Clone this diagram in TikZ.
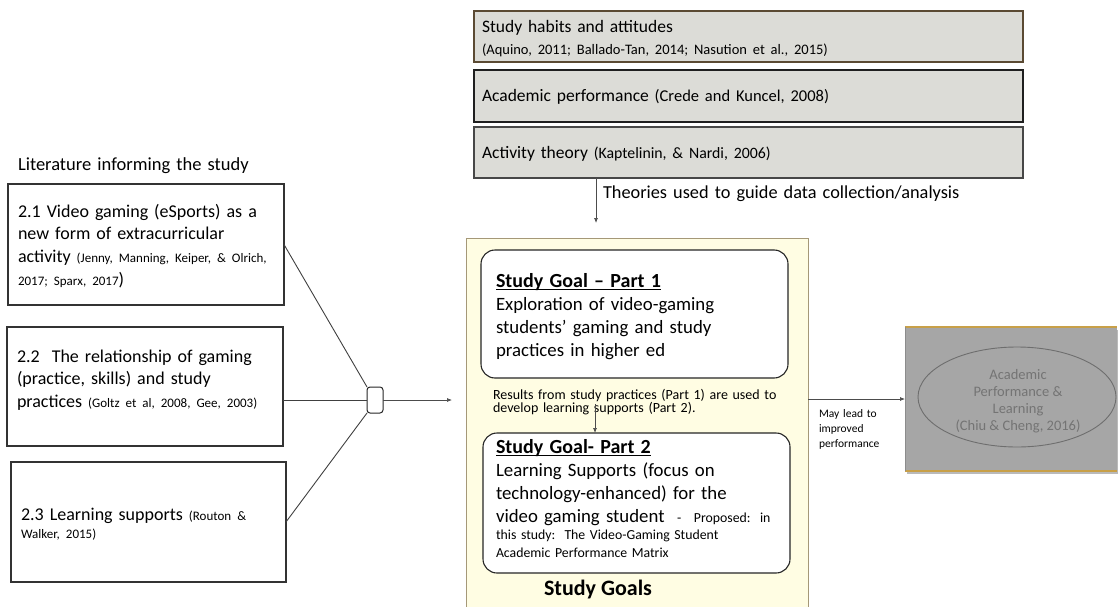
\documentclass[tikz,border=0pt]{standalone}
\usepackage{fontspec}
\setmainfont{Carlito}
\usetikzlibrary{arrows.meta,shapes.geometric,shadows}

\definecolor{panelgray}{HTML}{DCDCD7}
\definecolor{topbrown}{HTML}{5B4A33}
\definecolor{panelyellow}{HTML}{FFFDE3}
\definecolor{panelborder}{HTML}{A59878}
\definecolor{boxgray}{HTML}{A6A6A6}
\definecolor{goldline}{HTML}{C8A048}
\definecolor{ellgray}{HTML}{6E6E6E}
\definecolor{txtgray}{HTML}{747474}

\newcommand\setfs[2]{\fontsize{#1}{#2}\selectfont}
\newcommand\citesz{\fontsize{13}{22.7}\selectfont}
\newcommand\myul[1]{\setbox0\hbox{#1}\rlap{\rule[-2.6pt]{\wd0}{1.1pt}}\box0}

\begin{document}
\begin{tikzpicture}[x=1pt,y=-1pt,
  every node/.style={inner sep=0pt, outer sep=0pt},
  topbox/.style={draw, fill=panelgray, line width=1.2pt, minimum height=51pt, minimum width=549pt, anchor=north west},
  litbox/.style={draw=black!80, fill=white, line width=1.2pt, anchor=north west},
  goalbox/.style={draw=black!85, fill=white, line width=1.1pt, rounded corners=14pt, anchor=north west},
  txt/.style={anchor=base west, align=left, text width=#1},
  txt/.default=360pt,
  link/.style={draw=black!75, line width=0.9pt},
  arr/.style={draw=black!70, line width=0.7pt, -{Latex[length=5pt,width=4pt]}},
]
\useasboundingbox (0,0) rectangle (1118,607);

% theory boxes
\node[topbox, draw=topbrown] (hab) at (474,11) {};
\node[topbox, draw=black!88, minimum height=52pt] (acp) at (474,70) {};
\node[topbox, draw=black!72] (act) at (474,127) {};
\node[txt, font=\setfs{17.5}{22}] (habt) at (482,33) {Study habits and attitudes\\ {\setfs{14.5}{22}(Aquino, 2011; Ballado-Tan, 2014; Nasution et al., 2015)}};
\node[txt, font=\setfs{17.5}{22}] (acpt) at (482,102) {Academic performance {\setfs{16.5}{22}(Crede and Kuncel, 2008)}};
\node[txt, font=\setfs{17.5}{22}] (actt) at (482,158) {Activity theory {\setfs{15.8}{22}(Kaptelinin, \& Nardi, 2006)}};
\node[txt, font=\setfs{18.3}{22}] (theo) at (603,198) {Theories used to guide data collection/analysis};
\coordinate (theoend) at (596,223);
\draw[arr] (theoend |- act.south) -- (theoend);

% literature boxes
\node[txt, font=\setfs{18.5}{22}] (littitle) at (18,170) {Literature informing the study};
\node[litbox, minimum width=276pt, minimum height=121pt] (b21) at (8,184) {};
\node[txt, font=\setfs{18}{22.7}] (b21t) at (18,217) {2.1 Video gaming (eSports) as a\\ new form of extracurricular\\ activity {\citesz (Jenny, Manning, Keiper, \& Olrich,}\\ {\citesz 2017; Sparx, 2017})};
\node[litbox, minimum width=276pt, minimum height=119pt] (b22) at (7,327) {};
\node[txt, font=\setfs{18}{22.5}] (b22t) at (17,362) {2.2\ \ The relationship of gaming\\ (practice, skills) and study\\ practices {\citesz (Goltz et al, 2008, Gee, 2003)}};
\node[litbox, minimum width=275pt, minimum height=120pt] (b23) at (11,462) {};
\node[txt, font=\setfs{18}{18}] (b23t) at (21,520) {2.3 Learning supports {\citesz (Routon \&}\\ {\citesz Walker, 2015)}};

% junction
\node[draw=black!85, line width=1pt, rounded corners=3pt, minimum width=16pt, minimum height=26pt, fill=white] (jn) at (375,400) {};
\draw[link] (b21.east) -- (jn.north west);
\draw[link] (jn.west -| b22.east) -- (jn.west);
\draw[link] (b23.east) -- (jn.south west);
\coordinate (litend) at (452,400);
\draw[arr] (jn.east) -- (litend);

% study goals panel
\node[draw=panelborder, fill=panelyellow, line width=1pt, minimum width=342pt, minimum height=380pt, anchor=north west] (goals) at (466,238) {};
\node[goalbox, minimum width=307pt, minimum height=128pt] (p1) at (481,250) {};
\node[txt, font=\setfs{18.8}{23.3}] (p1t) at (496,287) {{\setfs{20}{23.3}\bfseries\myul{Study Goal – Part 1}}\\ Exploration of video-gaming\\ students’ gaming and study\\ practices in higher ed};
\node[goalbox, minimum width=307pt, minimum height=140pt] (p2) at (483,433) {};
\node[txt, font=\setfs{14}{13}] (mid) at (493,399) {Results from study practices (Part 1) are used to\\ develop learning supports (Part 2).};
\coordinate (midtop) at (595,404);
\draw[arr] (midtop) -- (midtop |- p2.north);
\node[txt, font=\setfs{18.8}{23}] (p2t) at (496,453) {{\setfs{20}{23}\bfseries\myul{Study Goal- Part 2}}\\ Learning Supports (focus on\\ technology-enhanced) for the\\ video gaming student\ \ {\setfs{13.8}{23}-\ \ Proposed: in}};
\node[txt, font=\setfs{13.8}{18}] (p2s) at (496,539) {this study:\ \ The Video-Gaming Student\\ Academic Performance Matrix};
\node[anchor=base, font=\bfseries\setfs{22}{26}] (goalslbl) at (598,595) {Study Goals};

% outcome box
\node[fill=boxgray, minimum width=212pt, minimum height=144pt, anchor=north west,
      drop shadow={shadow xshift=1.5pt, shadow yshift=-3pt, opacity=0.45, fill=black!60}] (gr) at (905,327) {};
\draw[goldline, line width=1.2pt] (gr.north west) -- (gr.north east);
\draw[goldline, line width=1.2pt] (gr.south west) -- (gr.south east);
\draw[black!45, line width=0.6pt] (gr.north west) -- (gr.south west);
\node[draw=ellgray, line width=0.9pt, ellipse, minimum width=198pt, minimum height=100pt] (ell) at (1017,397) {};
\node[align=center, font=\setfs{14.5}{17}, text=txtgray] (ellt) at (1018,401) {Academic\\ Performance \&\\ Learning\\ (Chiu \& Cheng, 2016)};
\draw[arr] (gr.west -| goals.east) -- (gr.west);
\node[txt, font=\setfs{11.5}{15}] (may) at (819,417) {May lead to\\ improved\\ performance};
\end{tikzpicture}
\end{document}
